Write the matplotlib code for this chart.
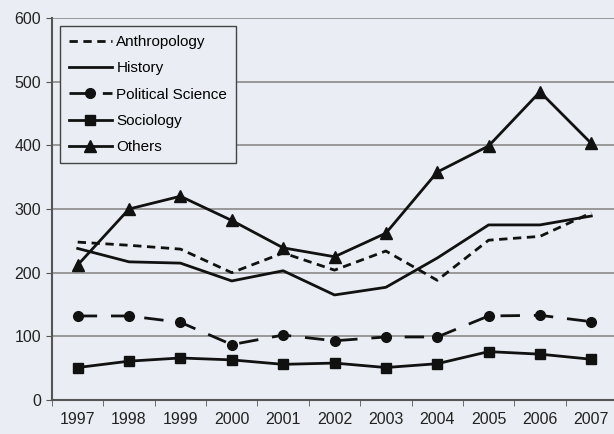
import matplotlib.pyplot as plt
import numpy as np

plt.rcParams['font.family'] = ['Liberation Sans', 'DejaVu Sans']

years = ['1997', '1998', '1999', '2000', '2001', '2002', '2003', '2004', '2005', '2006', '2007']
anthropology = [248, 243, 237, 200, 231, 204, 234, 188, 251, 257, 294]
history = [238, 217, 215, 187, 203, 165, 177, 223, 275, 275, 289]
political_science = [132, 132, 122, 87, 102, 93, 99, 99, 132, 133, 123]
sociology = [51, 61, 66, 63, 56, 58, 51, 57, 76, 72, 64]
others = [212, 300, 320, 282, 239, 225, 262, 358, 399, 484, 403]

bg = '#eaeef4'
fig = plt.figure(figsize=(6.14, 4.34), dpi=100, facecolor=bg)
ax = fig.add_axes([52 / 614, 1 - 400 / 434, 565 / 614, 382 / 434])
ax.set_facecolor(bg)

x = np.arange(len(years))
ax.plot(x, anthropology, color='#111111', lw=2, ls=(0, (3, 2)), label='Anthropology')
ax.plot(x, history, color='#111111', lw=2, label='History')
ax.plot(x, political_science, color='#111111', lw=2, ls=(0, (7, 5)),
        marker='o', ms=7, label='Political Science')
ax.plot(x, sociology, color='#111111', lw=2, marker='s', ms=7, label='Sociology')
ax.plot(x, others, color='#111111', lw=2, marker='^', ms=8, label='Others')

ax.set_xlim(-0.5, len(years) - 0.5)
ax.set_ylim(0, 600)
ax.set_yticks(range(0, 601, 100))
ax.set_xticks(x)
ax.set_xticklabels(years)
ax.set_xticks(np.arange(-0.5, len(years), 1), minor=True)
ax.tick_params(axis='x', which='major', length=0, pad=9, labelsize=11.5, colors='#222222')
ax.tick_params(axis='x', which='minor', length=4, color='#555555', direction='out')
ax.tick_params(axis='y', length=4, color='#555555', labelsize=11.5, colors='#222222', pad=4)
ax.yaxis.grid(True, color='#8a8a8a', lw=1.2)
ax.set_axisbelow(True)
for s in ['top', 'right']:
    ax.spines[s].set_visible(False)
for s in ['left', 'bottom']:
    ax.spines[s].set_color('#555555')
    ax.spines[s].set_linewidth(1.5)

leg = ax.legend(loc='upper left', bbox_to_anchor=(0.014, 0.979), fontsize=11,
                frameon=True, fancybox=False, handlelength=2.8, handletextpad=0.3,
                labelspacing=0.8, borderpad=0.6, borderaxespad=0)
leg.get_frame().set_edgecolor('#444444')
leg.get_frame().set_facecolor(bg)
leg.get_frame().set_linewidth(1)
leg.get_frame().set_alpha(1)

fig.savefig('out.png', dpi=100, facecolor=bg)
